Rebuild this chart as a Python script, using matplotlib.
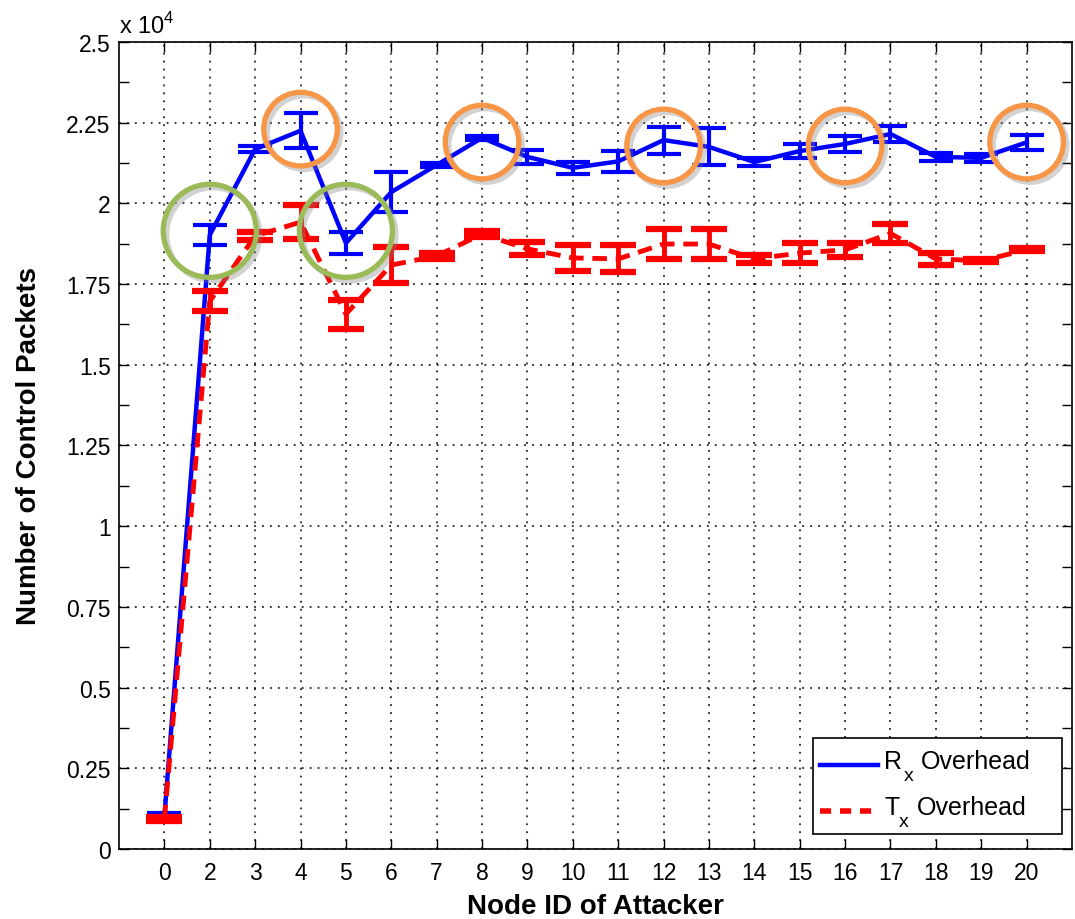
import numpy as np
import matplotlib
matplotlib.use("Agg")
import matplotlib.pyplot as plt
import matplotlib.patheffects as pe
from matplotlib.lines import Line2D
from matplotlib.patches import Rectangle
from matplotlib.ticker import FuncFormatter, MultipleLocator

plt.rcParams['font.family'] = ['Liberation Sans', 'DejaVu Sans']

# Node IDs of the attacker (node 1 is not in the study)
node_ids = ['0', '2', '3', '4', '5', '6', '7', '8', '9', '10', '11', '12',
            '13', '14', '15', '16', '17', '18', '19', '20']

# Rx overhead: mean and half-width of error bar
rx_mean = [1000, 19020, 21680, 22250, 18770, 20350, 21190, 22030, 21440, 21100,
           21300, 21960, 21750, 21280, 21620, 21840, 22150, 21440, 21410, 21890]
rx_err = [100, 320, 100, 550, 340, 620, 60, 60, 220, 190,
          320, 420, 570, 120, 220, 250, 250, 120, 120, 230]

# Tx overhead: mean and half-width of error bar
tx_mean = [920, 16970, 18990, 19420, 16570, 18090, 18370, 19050, 18590, 18310,
           18280, 18740, 18740, 18280, 18460, 18560, 19070, 18280, 18220, 18560]
tx_err = [60, 300, 110, 530, 450, 570, 90, 90, 200, 400,
          420, 460, 460, 120, 310, 220, 300, 190, 50, 50]

# highlighted nodes (annotation circles)
orange_nodes = ['4', '8', '12', '16', '20']
orange_y = [22300, 21900, 21780, 21780, 21900]
green_nodes = ['2', '5']
green_y = [19150, 19150]

legend_main = ['R', 'T']
legend_sub = 'x'
legend_rest = 'Overhead'

x = np.arange(len(node_ids))

fig = plt.figure(figsize=(10.75, 9.2), dpi=100)
ax = fig.add_axes([0.1107, 0.0761, 0.8865, 0.8772])

ax.errorbar(x, rx_mean, yerr=rx_err, color='#0000ff', lw=3.2, capsize=12,
            capthick=3, elinewidth=3, zorder=3)
ax.errorbar(x, tx_mean, yerr=tx_err, color='#ff0000', lw=3.5, capsize=13,
            capthick=4.5, elinewidth=3.5, zorder=4, dashes=(3, 1.8))

# annotation circles with a soft shadow
shadow = [pe.SimpleLineShadow(offset=(2.5, -2.5), alpha=0.35, shadow_color='gray'),
          pe.Normal()]
ox = [node_ids.index(n) for n in orange_nodes]
gx = [node_ids.index(n) for n in green_nodes]
ax.plot(ox, orange_y, 'o', ms=53, mfc='none', mec='#F79646', mew=3.8,
        zorder=6, path_effects=shadow)
ax.plot(gx, green_y, 'o', ms=67, mfc='none', mec='#9BBB59', mew=3.8,
        zorder=6, path_effects=shadow)

ax.set_xlim(-1, len(node_ids))
ax.set_ylim(0, 25000)
ax.set_xticks(x)
ax.set_xticklabels(node_ids)
ax.yaxis.set_major_locator(MultipleLocator(2500))
ax.yaxis.set_minor_locator(MultipleLocator(1250))
ax.yaxis.set_major_formatter(FuncFormatter(lambda v, p: f'{v / 1e4:g}'))

ax.grid(True, which='major', color='black', linestyle=(0, (1.2, 4)), lw=1.1)
ax.tick_params(which='both', direction='in', top=True, right=True,
               labelsize=16.5, length=7, width=1)
ax.tick_params(axis='x', pad=9)
ax.tick_params(axis='y', pad=6)
for s in ax.spines.values():
    s.set_linewidth(1.2)

ax.text(0.0, 1.005, r'x 10$^{\mathregular{4}}$', transform=ax.transAxes,
        fontsize=17, ha='left', va='bottom')

ax.set_xlabel('Node ID of Attacker', fontsize=20, fontweight='bold', va='top')
ax.xaxis.set_label_coords(0.5, -0.055)
ax.set_ylabel('Number of Control Packets', fontsize=20, fontweight='bold')
ax.yaxis.set_label_coords(-0.081, 0.5)

# legend box drawn by hand so the subscripts can be large and low, MATLAB style
T = ax.transAxes
ax.add_patch(Rectangle((0.728, 0.0186), 0.2615, 0.119, transform=T,
                       facecolor='white', edgecolor='black', lw=1.2, zorder=10))
rows = [(0.1066, dict(color='#0000ff', lw=3.2)),
        (0.0496, dict(color='#ff0000', lw=4, dashes=(2, 1.6)))]
for (yb, style), m in zip(rows, legend_main):
    ax.add_line(Line2D([0.736, 0.7965], [yb - 0.002, yb - 0.002], transform=T,
                       zorder=11, **style))
    ax.text(0.803, yb - 0.006, m, transform=T, fontsize=18, va='baseline',
            zorder=11)
    ax.text(0.8235 if m == 'R' else 0.8185, yb - 0.021, legend_sub, transform=T,
            fontsize=14, va='baseline', zorder=11)
    ax.text(0.8415 if m == 'R' else 0.837, yb - 0.006, legend_rest, transform=T,
            fontsize=18, va='baseline', zorder=11)

fig.savefig('out.png', dpi=100)
